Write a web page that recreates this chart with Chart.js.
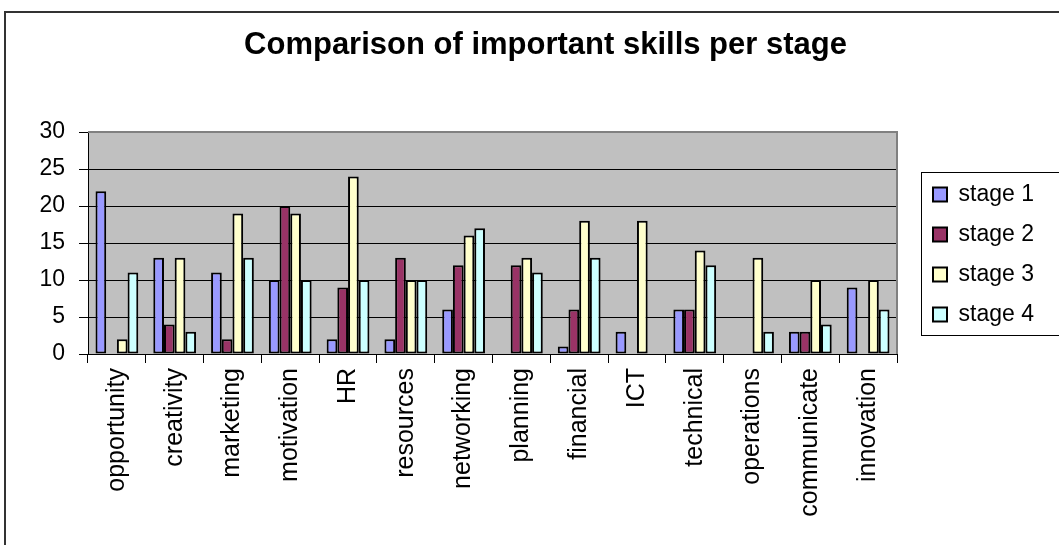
<!DOCTYPE html>
<html>
<head>
<meta charset="utf-8">
<script src="https://cdn.jsdelivr.net/npm/chart.js@4"></script>
<style>
    html,body{margin:0;padding:0;background:#fff}
    #myChart{display:block}
</style>
</head>
<body>
<canvas id="myChart" width="1059" height="545"></canvas>
<script>
//DATOS
const skills=["opportunity","creativity","marketing","motivation","HR","resources","networking","planning","financial","ICT","technical","operations","communicate","innovation"]
const stage1=[22,13,11,10,2,2,6,0,1,3,6,0,3,9]
const stage2=[0,4,2,20,9,13,12,12,6,0,6,0,3,0]
const stage3=[2,13,19,19,24,10,16,13,18,18,14,13,10,10]
const stage4=[11,3,13,10,10,10,17,11,13,0,12,3,4,6]
const stageNames=["stage 1","stage 2","stage 3","stage 4"]
const stageColors=["#9999FF","#993366","#FFFFCC","#CCFFFF"]
const yTicks=[0,5,10,15,20,25,30]

const fuente="'Liberation Sans', Arial, sans-serif"

//PLUGINS
const fondo={
    id:"fondo",
    beforeDraw(chart){
        const {ctx,chartArea:a}=chart
        ctx.save()
        ctx.fillStyle="#C0C0C0"
        ctx.fillRect(a.left,a.top,a.right-a.left,a.bottom-a.top)
        ctx.restore()
    },
    afterDraw(chart){
        const {ctx,chartArea:a,legend}=chart
        ctx.save()
        // borde gris del area de grafica
        ctx.strokeStyle="#808080"
        ctx.lineWidth=2
        ctx.beginPath()
        ctx.moveTo(a.left,a.top)
        ctx.lineTo(a.right,a.top)
        ctx.lineTo(a.right,a.bottom)
        ctx.stroke()
        // marco de la leyenda
        const hb=legend.legendHitBoxes
        if (hb && hb.length) {
            const x0=Math.min(...hb.map(h=>h.left))-12
            const y0=Math.min(...hb.map(h=>h.top))-11
            const y1=Math.max(...hb.map(h=>h.top+h.height))+9
            ctx.strokeStyle="#000"
            ctx.lineWidth=1
            ctx.strokeRect(Math.round(x0)+0.5,Math.round(y0)+0.5,1100,Math.round(y1-y0))
        }
        // marco exterior
        ctx.strokeStyle="#333"
        ctx.lineWidth=2
        ctx.beginPath()
        ctx.moveTo(5,545)
        ctx.lineTo(5,12)
        ctx.lineTo(1059,12)
        ctx.stroke()
        ctx.restore()
    }
}

// leyenda: ancho fijo y corrida hacia abajo/derecha
const ajusteLeyenda={
    id:"ajusteLeyenda",
    afterInit(chart){
        const lg=chart.legend
        const fitOrig=lg.fit.bind(lg)
        lg.fit=function(){
            fitOrig()
            this.width=162
        }
    },
    afterLayout(chart){
        const lg=chart.legend
        lg.left+=19
        lg.right+=19
        lg.top+=166
        lg.bottom+=166
    }
}

//GRAFICA
const datasets=[stage1,stage2,stage3,stage4].map((serie,i)=>({
    label:stageNames[i],
    data:serie,
    backgroundColor:stageColors[i],
    borderColor:"#000",
    borderWidth:2,
    borderSkipped:false,
    categoryPercentage:0.74,
    barPercentage:1
}))

const config={
    type:"bar",
    data:{labels:skills,datasets},
    options:{
        responsive:false,
        animation:false,
        layout:{padding:{left:32,right:0,top:0,bottom:0}},
        plugins:{
            title:{
                display:true,
                text:"Comparison of important skills per stage",
                color:"#000",
                font:{family:fuente,size:31,weight:"bold",lineHeight:1.2},
                padding:{top:27,bottom:67.8}
            },
            legend:{
                position:"right",
                align:"start",
                labels:{
                    color:"#000",
                    font:{family:fuente,size:23},
                    boxWidth:14,
                    boxHeight:14,
                    padding:17
                }
            },
            tooltip:{enabled:false}
        },
        scales:{
            x:{
                afterFit(scale){scale.height=191},
                grid:{drawOnChartArea:false,drawTicks:true,tickLength:9,color:"#000",offset:true},
                border:{color:"#000",width:1},
                ticks:{
                    color:"#000",
                    font:{family:fuente,size:25},
                    minRotation:90,
                    maxRotation:90,
                    padding:5,
                    autoSkip:false
                }
            },
            y:{
                min:0,
                max:30,
                afterFit(scale){scale.width=56},
                afterBuildTicks(scale){scale.ticks=yTicks.map(v=>({value:v}))},
                grid:{color:"#000",lineWidth:1,drawTicks:true,tickLength:9},
                border:{color:"#000",width:1},
                ticks:{
                    color:"#000",
                    font:{family:fuente,size:23},
                    padding:14
                }
            }
        }
    },
    plugins:[fondo,ajusteLeyenda]
}

const myChart=new Chart(document.querySelector("#myChart"),config)
</script>
</body>
</html>
